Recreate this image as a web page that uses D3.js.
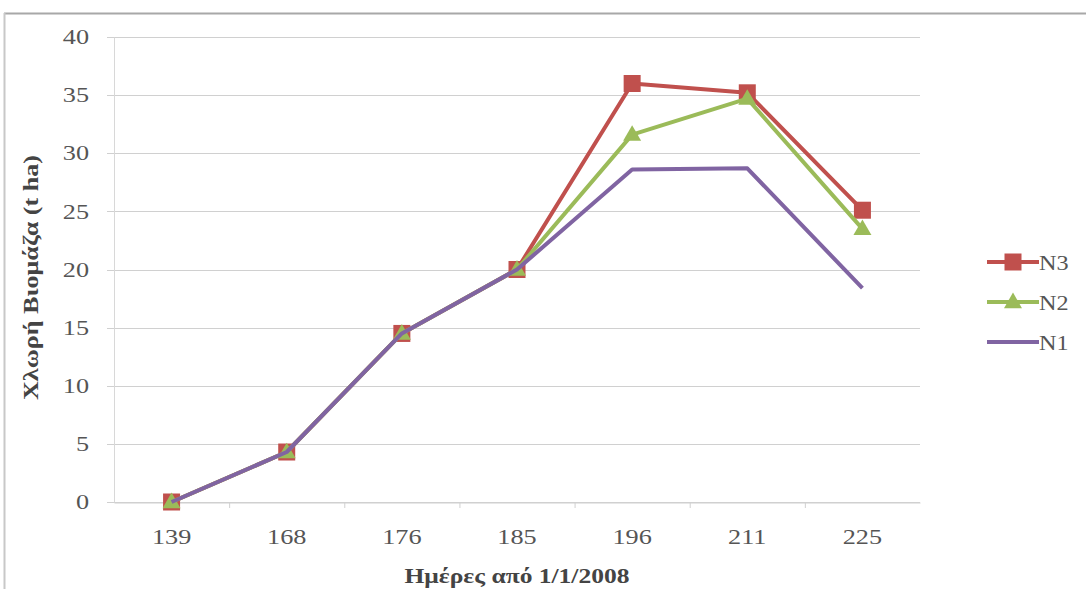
<!DOCTYPE html>
<html>
<head>
<meta charset="utf-8">
<style>
  body { margin:0; padding:0; background:#fff; }
  svg { display:block; font-family:"Liberation Serif", "Times New Roman", serif; }
  .grid line { stroke:#d0d0d0; stroke-width:1; }
</style>
</head>
<body>
<svg width="1086" height="589"></svg>
<script src="https://d3js.org/d3.v7.min.js"></script>
<script>
// dati
var days = ["139", "168", "176", "185", "196", "211", "225"];
var n3 = [0, 4.3, 14.5, 20, 36.0, 35.2, 25.1];
var n2 = [0, 4.3, 14.5, 20, 31.6, 34.7, 23.5];
var n1 = [0, 4.3, 14.5, 20, 28.6, 28.7, 18.4];
var yTicks = [0, 5, 10, 15, 20, 25, 30, 35, 40];

var series = [
  { name: "N3", values: n3, color: "#c0504d", marker: "square" },
  { name: "N2", values: n2, color: "#9bbb59", marker: "triangle" },
  { name: "N1", values: n1, color: "#8064a2", marker: "none" }
];

var svg = d3.select("svg");
var stretch = 1.25; // il testo dell'originale e' allargato in orizzontale

// cornice esterna
svg.append("line").attr("x1", 4).attr("x2", 1086).attr("y1", 13.5).attr("y2", 13.5)
  .attr("stroke", "#a8a8a8").attr("stroke-width", 2);
svg.append("line").attr("x1", 4.5).attr("x2", 4.5).attr("y1", 13).attr("y2", 589)
  .attr("stroke", "#c8c8c8").attr("stroke-width", 2);

var plotLeft = 114, plotRight = 920, plotTop = 37, plotBottom = 502;

var x = d3.scaleBand().domain(days).range([plotLeft, plotRight]);
var y = d3.scaleLinear().domain([0, 40]).range([plotBottom, plotTop]);

// griglia orizzontale
svg.append("g").attr("class", "grid")
  .selectAll("line").data(yTicks).enter().append("line")
  .attr("x1", plotLeft - 7).attr("x2", plotRight)
  .attr("y1", function(d) { return Math.round(y(d)) + 0.5; })
  .attr("y2", function(d) { return Math.round(y(d)) + 0.5; });

// asse y
var yAxis = svg.append("g").attr("transform", "translate(" + plotLeft + ",0)")
  .call(d3.axisLeft(y).tickValues(yTicks).tickSize(0).tickPadding(25));
yAxis.select(".domain").attr("stroke", "#d8d8d8");
yAxis.selectAll("text")
  .attr("font-size", 21).attr("font-family", "Liberation Serif").attr("fill", "#555")
  .attr("x", -25 / stretch)
  .attr("transform", "scale(" + stretch + ",1)");

// asse x
var xAxis = svg.append("g").attr("transform", "translate(0," + (plotBottom + 0.5) + ")")
  .call(d3.axisBottom(x).tickSize(0).tickPadding(27));
xAxis.select(".domain").attr("stroke", "#d0d0d0");
xAxis.selectAll("text")
  .attr("font-size", 21).attr("font-family", "Liberation Serif").attr("fill", "#555")
  .attr("transform", "scale(" + stretch + ",1)");
// tacche tra le categorie
svg.append("g").selectAll("line").data(days.slice(1)).enter().append("line")
  .attr("x1", function(d) { return x(d) + 0.5; })
  .attr("x2", function(d) { return x(d) + 0.5; })
  .attr("y1", plotBottom).attr("y2", plotBottom + 6)
  .attr("stroke", "#d0d0d0");

// titoli assi
svg.append("text")
  .attr("transform", "translate(38," + ((plotTop + plotBottom) / 2 + 8) + ") rotate(-90)")
  .attr("text-anchor", "middle")
  .attr("font-size", 22).attr("font-weight", "bold").attr("fill", "#444")
  .attr("textLength", 245).attr("lengthAdjust", "spacingAndGlyphs")
  .text("Χλωρή Βιομάζα (t ha)");

svg.append("text")
  .attr("x", (plotLeft + plotRight) / 2 + 0).attr("y", 583)
  .attr("text-anchor", "middle")
  .attr("font-size", 22).attr("font-weight", "bold").attr("fill", "#444")
  .attr("textLength", 225).attr("lengthAdjust", "spacingAndGlyphs")
  .text("Ημέρες από 1/1/2008");

var line = d3.line()
  .x(function(d, i) { return x(days[i]) + x.bandwidth() / 2; })
  .y(function(d) { return y(d); });

function drawMarker(g, s, cx, cy) {
  if (s.marker == "square") {
    g.append("rect").attr("x", cx - 8.5).attr("y", cy - 8.5).attr("width", 17).attr("height", 17)
      .attr("fill", s.color);
  } else if (s.marker == "triangle") {
    g.append("path").attr("d", d3.symbol().type(d3.symbolTriangle).size(140)())
      .attr("transform", "translate(" + cx + "," + (cy + 1) + ")")
      .attr("fill", s.color);
  }
}

series.forEach(function(s) {
  var g = svg.append("g");
  g.append("path").datum(s.values)
    .attr("d", line)
    .attr("fill", "none")
    .attr("stroke", s.color)
    .attr("stroke-width", 4)
    .attr("stroke-linejoin", "round");
  s.values.forEach(function(v, i) {
    drawMarker(g, s, x(days[i]) + x.bandwidth() / 2, y(v));
  });
});

// legenda
var legend = svg.append("g").selectAll("g").data(series).enter().append("g")
  .attr("transform", function(d, i) { return "translate(987," + (262 + i * 40) + ")"; });
legend.append("line").attr("x1", 0).attr("x2", 52)
  .attr("stroke", function(d) { return d.color; }).attr("stroke-width", 4);
legend.each(function(d) { drawMarker(d3.select(this), d, 26, 0); });
legend.append("text").attr("x", 52 / 1.1).attr("y", 8)
  .attr("transform", "scale(1.1,1)")
  .attr("font-size", 22).attr("fill", "#555")
  .text(function(d) { return d.name; });
</script>
</body>
</html>
